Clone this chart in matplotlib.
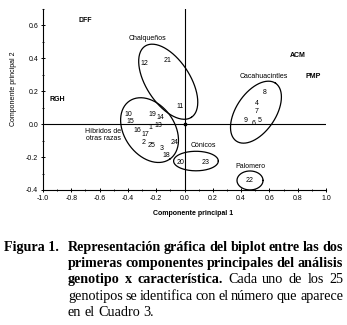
import numpy as np
import matplotlib
matplotlib.use("Agg")
import matplotlib.pyplot as plt

# ---------------- data ----------------
genotypes = [str(i) for i in range(1, 26)]
pc1 = [-0.24, -0.29, -0.16, 0.51, 0.53, 0.49, 0.51, 0.57, 0.43, -0.40,
       -0.03, -0.28, -0.185, -0.17, -0.385, -0.33, -0.28, -0.13, -0.23, -0.03,
       -0.12, 0.46, 0.15, -0.07, -0.23]
pc2 = [-0.02, -0.11, -0.15, 0.125, 0.02, 0.004, 0.077, 0.19, 0.02, 0.06,
       0.105, 0.37, -0.006, 0.04, 0.014, -0.04, -0.06, -0.19, 0.06, -0.23,
       0.39, -0.345, -0.23, -0.11, -0.13]

traits = ["DFF", "RGH", "ACM", "PMP"]
trait_pc1 = [-0.70, -0.90, 0.80, 0.91]
trait_pc2 = [0.63, 0.15, 0.42, 0.29]

groups = ["Chalqueños", "Cacahuacintles", "Híbridos de\notras razas", "Cónicos", "Palomero"]
group_pc1 = [-0.26, 0.56, -0.575, 0.13, 0.465]
group_pc2 = [0.52, 0.29, -0.067, -0.13, -0.255]

# ellipses: centre (data), semi-axes (x-units), angle (display deg)
ell_cx = [-0.115, -0.247, 0.505, 0.081, 0.463]
ell_cy = [0.258, -0.036, 0.073, -0.224, -0.342]
ell_a = [0.30, 0.25, 0.247, 0.158, 0.092]
ell_b = [0.155, 0.178, 0.139, 0.069, 0.067]
ell_ang = [-57, -55, 56, 0, 0]

xticks = [-1.0, -0.8, -0.6, -0.4, -0.2, 0.0, 0.2, 0.4, 0.6, 0.8, 1.0]
yticks = [-0.4, -0.2, 0.0, 0.2, 0.4, 0.6]

# ---------------- figure ----------------
W, H = 347, 325
fig = plt.figure(figsize=(W / 100, H / 100), dpi=100)
ax = fig.add_axes([43 / W, 1 - 190 / H, 283 / W, 181 / H])
sans = "Liberation Sans"

ax.set_xlim(-1.0, 1.0)
ax.set_ylim(-0.4, 0.7)
ax.set_xticks(xticks)
ax.set_yticks(yticks)
ax.set_xticklabels([f"{t:.1f}" for t in xticks], fontsize=5, family=sans)
ax.set_yticklabels([f"{t:.1f}" for t in yticks], fontsize=5, family=sans)
ax.set_xticks(np.arange(-1.0, 1.01, 0.1), minor=True)
ax.set_yticks(np.arange(-0.4, 0.71, 0.1), minor=True)
ax.tick_params(which="major", direction="inout", length=3, width=0.7, pad=2)
ax.tick_params(which="minor", direction="inout", length=2, width=0.6)
for s in ["top", "right"]:
    ax.spines[s].set_visible(False)
for s in ["left", "bottom"]:
    ax.spines[s].set_linewidth(0.8)

ax.axhline(0, color="black", lw=0.8)
ax.axvline(0, color="black", lw=0.8)
ax.plot([0], [0], marker="s", ms=2, color="black")

ax.set_xlabel("Componente principal 1", fontsize=5, family=sans, fontweight="bold")
ax.xaxis.set_label_coords(0.53, -0.11)
ax.set_ylabel("Componente principal 2", fontsize=5, family=sans)
ax.yaxis.set_label_coords(-0.092, 0.56)

for g, x, y in zip(genotypes, pc1, pc2):
    ax.text(x, y, g, fontsize=5, family=sans, ha="center", va="center")
for t, x, y in zip(traits, trait_pc1, trait_pc2):
    ax.text(x, y, t, fontsize=5, family=sans, fontweight="bold", ha="center", va="center")
for t, x, y in zip(groups, group_pc1, group_pc2):
    ax.text(x, y, t, fontsize=5, family=sans, ha="center", va="center", linespacing=1.1)

# aspect ratio of display scales
p0 = ax.transData.transform((0, 0))
px = ax.transData.transform((1, 0))[0] - p0[0]
py = ax.transData.transform((0, 1))[1] - p0[1]
k = py / px
tt = np.linspace(0, 2 * np.pi, 200)
for cx, cy, a, b, ang in zip(ell_cx, ell_cy, ell_a, ell_b, ell_ang):
    ph = np.deg2rad(ang)
    dx = a * np.cos(tt) * np.cos(ph) - b * np.sin(tt) * np.sin(ph)
    dy = a * np.cos(tt) * np.sin(ph) + b * np.sin(tt) * np.cos(ph)
    ax.plot(cx + dx, cy + dy / k, color="black", lw=0.9)

# ---------------- caption ----------------
serif = "Liberation Serif"
fs = 10.2
fig.canvas.draw()
renderer = fig.canvas.get_renderer()

def wwidth(word, bold):
    t = fig.text(0, 0, word, fontsize=fs, family=serif, fontweight="bold" if bold else "normal")
    w = t.get_window_extent(renderer).width
    t.remove()
    return w

fig.text(4 / W, 1 - 251 / H, "Figura 1.", fontsize=fs, family=serif, fontweight="bold", va="baseline")
lines = [
    ([("Representación gráfica del biplot entre las dos", True)], True),
    ([("primeras componentes principales del análisis", True)], True),
    ([("genotipo x característica.", True), ("Cada uno de los 25", False)], True),
    ([("genotipos se identifica con el número que aparece", False)], True),
    ([("en el Cuadro 3.", False)], False),
]
x0, x1 = 68, 343
base = 251
for i, (segs, just) in enumerate(lines):
    words = []
    for txt, bold in segs:
        for w in txt.split(" "):
            words.append((w, bold))
    widths = [wwidth(w, b) for w, b in words]
    space = wwidth("a b", False) - wwidth("ab", False)
    if just and len(words) > 1:
        gap = (x1 - x0 - sum(widths)) / (len(words) - 1)
    else:
        gap = space
    x = x0
    y = base + i * 16.2
    for (w, b), wd in zip(words, widths):
        fig.text(x / W, 1 - y / H, w, fontsize=fs, family=serif,
                 fontweight="bold" if b else "normal", va="baseline")
        x += wd + gap

fig.savefig("out.png", dpi=100)
